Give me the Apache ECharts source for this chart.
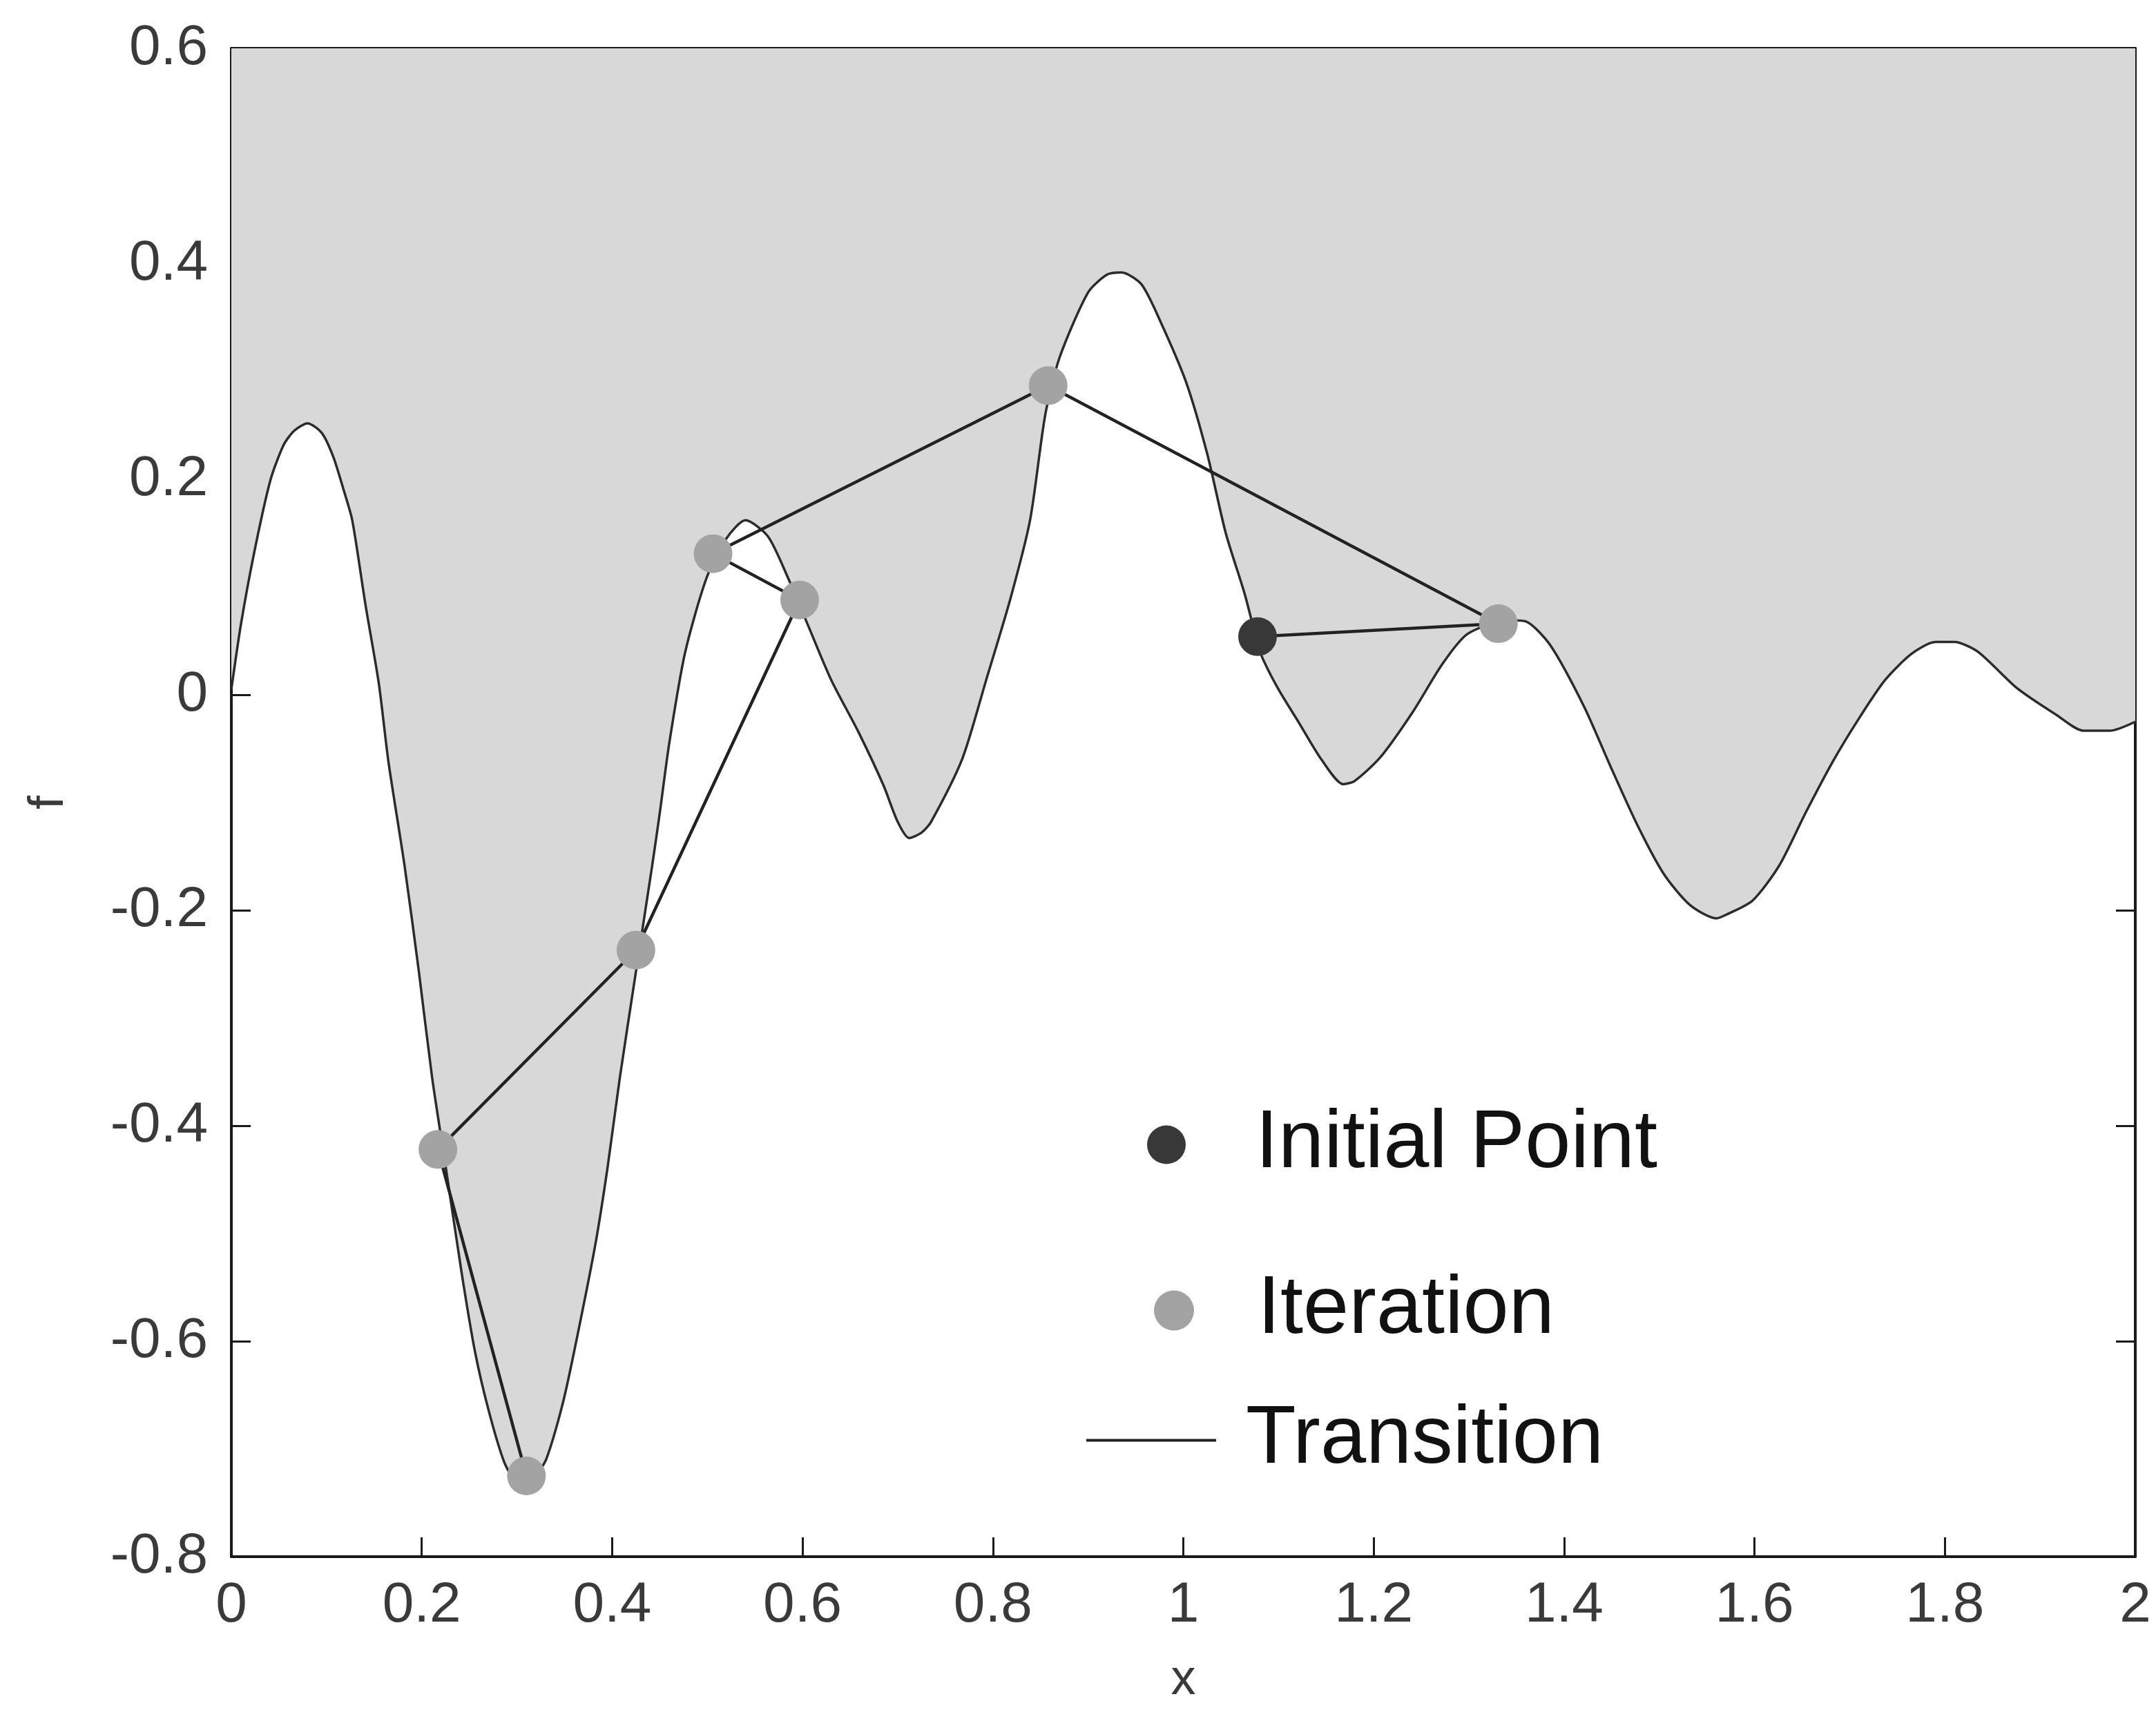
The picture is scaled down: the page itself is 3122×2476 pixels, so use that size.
<!DOCTYPE html>
<html>
<head>
<meta charset="utf-8">
<script src="https://cdn.jsdelivr.net/npm/echarts@6/dist/echarts.min.js"></script>
<style>
html,body{margin:0;padding:0;background:#fff;}
#chart{width:3122px;height:2476px;}
</style>
</head>
<body>
<div id="chart"></div>
<script>
// Objective function f(x)
const curveX = [0.000,0.010,0.024,0.041,0.055,0.066,0.080,0.095,0.107,0.118,0.127,0.141,0.155,0.165,0.182,0.197,0.211,0.2255,0.242,0.256,0.2705,0.2865,0.298,0.308,0.320,0.331,0.3475,0.360,0.382,0.395,0.408,0.425,0.442,0.450,0.460,0.4766,0.499,0.520,0.540,0.5637,0.585,0.606,0.630,0.659,0.685,0.700,0.712,0.725,0.735,0.768,0.793,0.818,0.839,0.855,0.870,0.900,0.920,0.935,0.956,0.9757,1.003,1.025,1.0446,1.064,1.075,1.0823,1.100,1.1215,1.145,1.168,1.180,1.207,1.241,1.2717,1.2963,1.320,1.345,1.360,1.3855,1.421,1.449,1.477,1.5045,1.532,1.560,1.5706,1.598,1.626,1.654,1.6816,1.709,1.737,1.765,1.790,1.810,1.8346,1.876,1.917,1.9456,1.973,2.000];
const curveF = [0.005,0.065,0.132,0.199,0.232,0.245,0.252,0.243,0.221,0.190,0.162,0.083,0.010,-0.062,-0.159,-0.257,-0.356,-0.440,-0.537,-0.610,-0.665,-0.712,-0.730,-0.735,-0.725,-0.709,-0.660,-0.610,-0.512,-0.440,-0.356,-0.257,-0.159,-0.110,-0.045,0.039,0.108,0.145,0.162,0.147,0.108,0.064,0.014,-0.035,-0.084,-0.118,-0.133,-0.128,-0.118,-0.059,0.014,0.088,0.162,0.260,0.313,0.3735,0.390,0.392,0.381,0.347,0.290,0.224,0.150,0.095,0.058,0.036,0.005,-0.026,-0.060,-0.083,-0.080,-0.058,-0.016,0.028,0.055,0.065,0.069,0.068,0.046,-0.011,-0.067,-0.121,-0.166,-0.195,-0.2075,-0.204,-0.191,-0.1585,-0.109,-0.063,-0.023,0.0135,0.038,0.049,0.049,0.040,0.006,-0.0186,-0.0334,-0.0334,-0.025];

// Search path: initial point then iterations, in order
const initialX = [1.078];
const initialF = [0.054];
const iterX = [1.331, 0.858, 0.506, 0.597, 0.425, 0.217, 0.310];
const iterF = [0.066, 0.287, 0.131, 0.088, -0.237, -0.422, -0.725];

const xTicks = ['0','0.2','0.4','0.6','0.8','1','1.2','1.4','1.6','1.8','2'];
const yTicks = ['-0.8','-0.6','-0.4','-0.2','0','0.2','0.4','0.6'];

const pair = (xs, ys) => xs.map((x, i) => [x, ys[i]]);
const pathX = initialX.concat(iterX);
const pathF = initialF.concat(iterF);

const FONT = 'Liberation Sans, Arial, sans-serif';
const axisLine = {show: true, onZero: false, lineStyle: {color: '#1a1a1a', width: 4}};
const tick = {show: true, inside: true, length: 28, lineStyle: {color: '#1a1a1a', width: 3}};
const lbl = {fontSize: 82, color: '#3a3a3a', fontFamily: FONT};

const chart = echarts.init(document.getElementById('chart'), null, {renderer: 'canvas'});
chart.setOption({
  backgroundColor: '#ffffff',
  animation: false,
  grid: {left: 335, right: 30, top: 70, bottom: 222, containLabel: false, outerBoundsMode: 'none'},
  xAxis: [
    {type: 'value', position: 'bottom', min: 0, max: 2, interval: 0.2,
     axisLine, axisTick: tick, splitLine: {show: false},
     axisLabel: Object.assign({margin: 30, formatter: v => xTicks[Math.round(v / 0.2)]}, lbl),
     name: 'x', nameLocation: 'middle', nameGap: 143,
     nameTextStyle: {fontSize: 72, color: '#3a3a3a', fontFamily: FONT}},
    {type: 'value', position: 'top', min: 0, max: 2, interval: 0.2,
     axisLine, axisTick: tick, splitLine: {show: false}, axisLabel: {show: false}}
  ],
  yAxis: [
    {type: 'value', position: 'left', min: -0.8, max: 0.6, interval: 0.2,
     axisLine, axisTick: tick, splitLine: {show: false},
     axisLabel: Object.assign({margin: 34, formatter: v => yTicks[Math.round((v + 0.8) / 0.2)]}, lbl),
     name: 'f', nameLocation: 'middle', nameGap: 228, nameRotate: 90,
     nameTextStyle: {fontSize: 72, color: '#3a3a3a', fontFamily: FONT}},
    {type: 'value', position: 'right', min: -0.8, max: 0.6, interval: 0.2,
     axisLine, axisTick: tick, splitLine: {show: false}, axisLabel: {show: false}}
  ],
  legend: [
    {data: ['Initial Point'], left: 1661, top: 1598, padding: 0, itemWidth: 248, itemHeight: 56,
     textStyle: {fontSize: 119, color: '#111', fontFamily: FONT}},
    {data: ['Iteration'], left: 1671, top: 1838, padding: 0, itemWidth: 232, itemHeight: 58,
     textStyle: {fontSize: 119, color: '#111', fontFamily: FONT}},
    {data: [{name: 'Transition', icon: 'rect'}], left: 1573, top: 2026, padding: 0, itemWidth: 188, itemHeight: 4,
     itemStyle: {color: '#222222'},
     textStyle: {fontSize: 119, color: '#111', fontFamily: FONT, padding: [0, 0, 0, 38]}}
  ],
  series: [
    {name: 'f', type: 'line', data: pair(curveX, curveF), symbol: 'none', z: 1,
     smooth: 0.25,
     lineStyle: {color: '#2b2b2b', width: 3.5},
     areaStyle: {origin: 'end', color: '#d8d8d8', opacity: 1}},
    {name: 'Transition', type: 'line', data: pair(pathX, pathF), symbol: 'none', z: 2,
     lineStyle: {color: '#222222', width: 4.5}, itemStyle: {color: '#222222'}},
    {name: 'Initial Point', type: 'scatter', data: pair(initialX, initialF), symbol: 'circle',
     symbolSize: 56, z: 3, itemStyle: {color: '#383838', opacity: 1}},
    {name: 'Iteration', type: 'scatter', data: pair(iterX, iterF), symbol: 'circle',
     symbolSize: 56, z: 3, itemStyle: {color: '#a3a3a3', opacity: 1}}
  ]
});
</script>
</body>
</html>
